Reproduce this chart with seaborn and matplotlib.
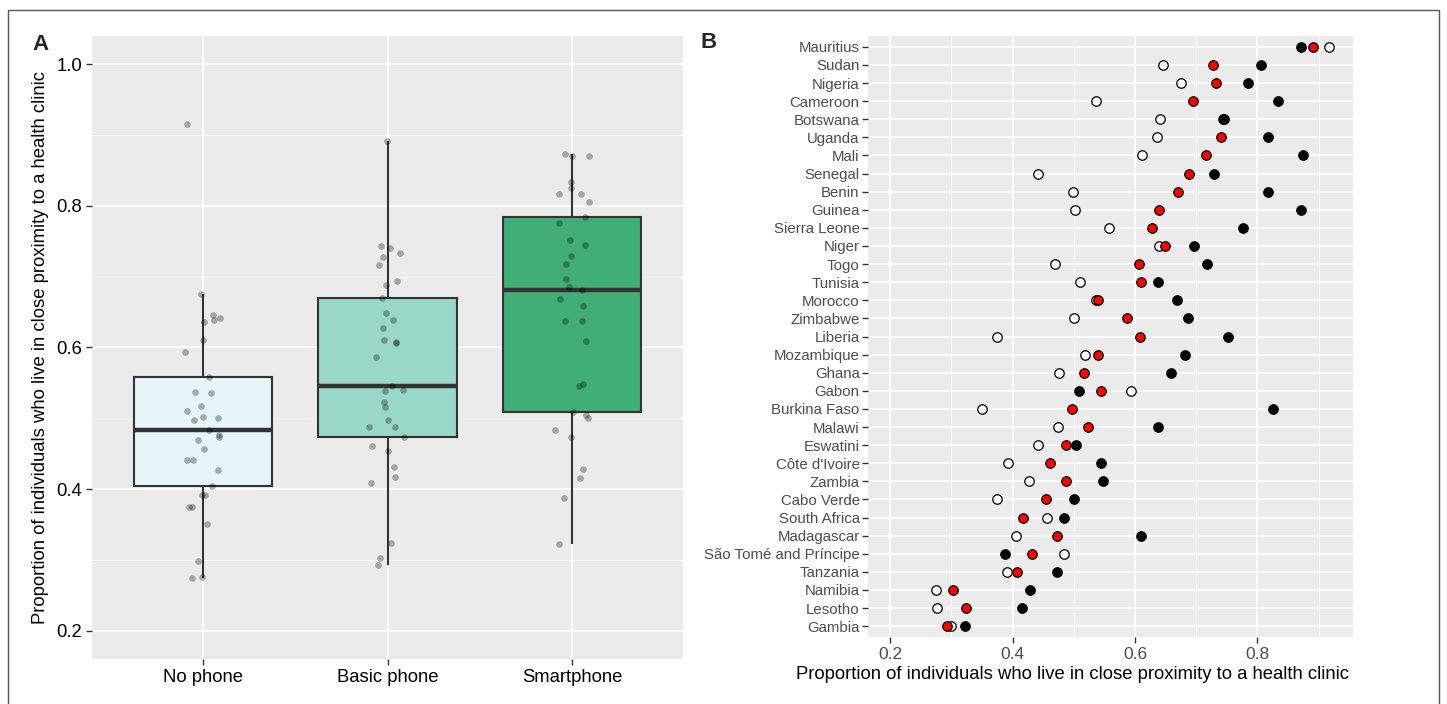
import numpy as np
import pandas as pd
import matplotlib
matplotlib.use("Agg")
import matplotlib.pyplot as plt
from matplotlib.patches import Rectangle
from matplotlib.ticker import MultipleLocator, FormatStrFormatter
import seaborn as sns

np.random.seed(7)

# Country level values (top to bottom)
countries = ['Mauritius', 'Sudan', 'Nigeria', 'Cameroon', 'Botswana', 'Uganda', 'Mali',
             'Senegal', 'Benin', 'Guinea', 'Sierra Leone', 'Niger', 'Togo', 'Tunisia',
             'Morocco', 'Zimbabwe', 'Liberia', 'Mozambique', 'Ghana', 'Gabon',
             'Burkina Faso', 'Malawi', 'Eswatini', "Côte d'Ivoire", 'Zambia', 'Cabo Verde',
             'South Africa', 'Madagascar', 'São Tomé and Príncipe', 'Tanzania', 'Namibia',
             'Lesotho', 'Gambia']
no_phone = [0.916, 0.646, 0.675, 0.536, 0.641, 0.636, 0.611, 0.441, 0.498, 0.502, 0.558,
            0.639, 0.469, 0.511, 0.537, 0.500, 0.374, 0.518, 0.476, 0.593, 0.350, 0.474,
            0.441, 0.392, 0.427, 0.374, 0.456, 0.405, 0.484, 0.391, 0.275, 0.276, 0.299]
basic_phone = [0.891, 0.728, 0.733, 0.694, 0.744, 0.741, 0.716, 0.688, 0.670, 0.639, 0.628,
               0.649, 0.606, 0.610, 0.540, 0.587, 0.608, 0.539, 0.516, 0.545, 0.497, 0.523,
               0.488, 0.461, 0.488, 0.454, 0.417, 0.473, 0.431, 0.408, 0.303, 0.324, 0.293]
smartphone = [0.871, 0.805, 0.784, 0.834, 0.745, 0.817, 0.874, 0.729, 0.817, 0.871, 0.776,
              0.697, 0.718, 0.638, 0.668, 0.686, 0.752, 0.681, 0.658, 0.509, 0.826, 0.637,
              0.504, 0.545, 0.548, 0.500, 0.484, 0.609, 0.387, 0.473, 0.429, 0.415, 0.322]

phone_types = ['No phone', 'Basic phone', 'Smartphone']
box_colors = ['#E5F5F9', '#99D8C9', '#41AE76']
dot_fills = {'No phone': 'white', 'Basic phone': 'red', 'Smartphone': 'black'}

wide = pd.DataFrame({'Country': countries, 'No phone': no_phone,
                     'Basic phone': basic_phone, 'Smartphone': smartphone})
long = wide.melt(id_vars='Country', var_name='Phone', value_name='Proportion')

sns.set_theme(style='darkgrid')
plt.rcParams['font.family'] = ['Liberation Sans', 'DejaVu Sans']
plt.rcParams['axes.facecolor'] = '#EBEBEB'
plt.rcParams['grid.color'] = 'white'

fig = plt.figure(figsize=(14.47, 7.04), dpi=100)
fig.patch.set_facecolor('white')
W, H = 1447, 704
ax1 = fig.add_axes([92 / W, (H - 659) / H, 591 / W, 623 / H])
ax2 = fig.add_axes([868 / W, (H - 637) / H, 485 / W, 601 / H])

# ---- Panel A: boxplots with jittered points
sns.boxplot(data=long, x='Phone', y='Proportion', hue='Phone', order=phone_types,
            hue_order=phone_types, palette=box_colors, saturation=1, legend=False,
            width=0.75, linecolor='#333333', linewidth=1.5, showcaps=False,
            showfliers=False, medianprops={'linewidth': 3.2, 'color': '#333333'},
            ax=ax1, zorder=2)
sns.stripplot(data=long, x='Phone', y='Proportion', order=phone_types, jitter=0.1,
              color='black', alpha=0.3, size=4.8, linewidth=0, ax=ax1, zorder=3)
ax1.set_ylim(0.16, 1.04)
ax1.set_xlim(-0.6, 2.6)
ax1.yaxis.set_major_locator(MultipleLocator(0.2))
ax1.yaxis.set_minor_locator(MultipleLocator(0.1))
ax1.yaxis.set_major_formatter(FormatStrFormatter('%.1f'))
ax1.grid(which='major', color='white', linewidth=1.2)
ax1.grid(which='minor', axis='y', color='white', linewidth=0.6)
ax1.set_xlabel('')
ax1.set_ylabel('Proportion of individuals who live in close proximity to a health clinic',
               fontsize=13.3, color='black', labelpad=5)
ax1.tick_params(axis='both', which='major', length=4, width=1, color='#333333',
                labelsize=13.3, labelcolor='black', pad=3, bottom=True, left=True)
ax1.tick_params(which='minor', length=0)
for s in ax1.spines.values():
    s.set_visible(False)

# ---- Panel B: dot plot by country
for ph in ['No phone', 'Basic phone', 'Smartphone']:
    sns.stripplot(data=wide, x=ph, y='Country', order=countries, jitter=False,
                  color=dot_fills[ph], edgecolor='black', linewidth=0.9, size=6.8,
                  ax=ax2, zorder=3)
ax2.set_xlim(0.164, 0.956)
ax2.set_ylim(len(countries) - 1 + 0.6, -0.6)
ax2.xaxis.set_major_locator(MultipleLocator(0.2))
ax2.xaxis.set_minor_locator(MultipleLocator(0.1))
ax2.xaxis.set_major_formatter(FormatStrFormatter('%.1f'))
ax2.grid(which='major', color='white', linewidth=1.2)
ax2.grid(which='minor', axis='x', color='white', linewidth=0.6)
ax2.set_ylabel('')
ax2.set_xlabel('Proportion of individuals who live in close proximity to a health clinic',
               fontsize=13.3, color='black')
ax2.xaxis.set_label_coords((1072 - 868) / 485, (637 - 666) / 601)
ax2.tick_params(axis='x', which='major', length=4, width=1, color='#333333',
                labelsize=12.5, labelcolor='#4D4D4D', pad=3, bottom=True)
ax2.tick_params(axis='y', which='major', length=4, width=1, color='#333333',
                labelsize=10.8, labelcolor='#4D4D4D', pad=2, left=True)
ax2.tick_params(which='minor', length=0)
for s in ax2.spines.values():
    s.set_visible(False)

# panel letters and outer frame
fig.text(32 / W, 1 - 44 / H, 'A', fontsize=16, fontweight='bold', va='center', ha='left')
fig.text(701 / W, 1 - 43 / H, 'B', fontsize=16, fontweight='bold', va='center', ha='left')
fig.add_artist(Rectangle((8 / W, -0.05), (1439 - 8) / W, 1.05 - 10 / H,
                         transform=fig.transFigure, fill=False, edgecolor='#555555',
                         linewidth=1.0))

fig.savefig('out.png', dpi=100)
